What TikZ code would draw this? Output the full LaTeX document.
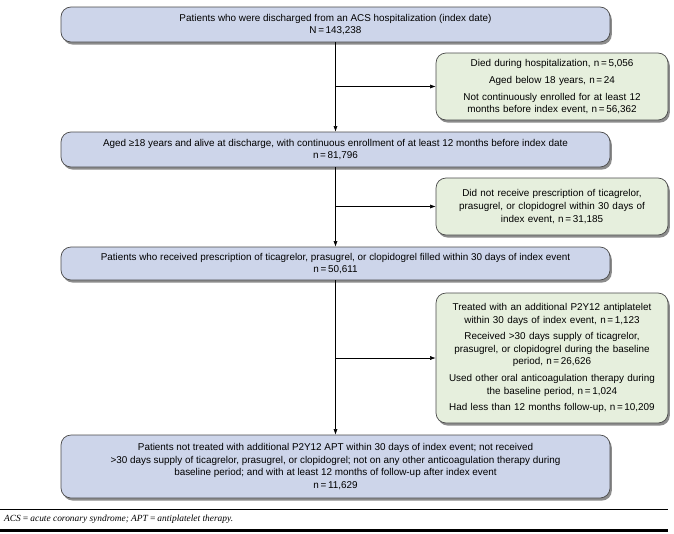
\documentclass[tikz,border=0pt]{standalone}
\usepackage{fontspec}
\setmainfont{Liberation Sans}
\newfontfamily\capfont{Liberation Serif}
\usetikzlibrary{shadows,arrows.meta}
\definecolor{bluefill}{HTML}{CDD5EA}
\definecolor{greenfill}{HTML}{E6EFDD}
\definecolor{boxline}{HTML}{4A4A4A}
\tikzset{
  base/.style={draw=boxline, line width=0.7pt, rounded corners=10pt, align=center,
    font=\fontsize{9.9}{12.6}\selectfont, inner sep=2pt,
    drop shadow={shadow xshift=1.8pt, shadow yshift=-2.6pt, opacity=0.6, fill=black!75}},
  mainbox/.style={base, fill=bluefill, minimum width=549pt},
  sidebox/.style={base, fill=greenfill, minimum width=232pt, text width=228pt},
  flow/.style={line width=0.55pt, -{Latex[length=5.5pt,width=4pt]}},
}
\begin{document}
\begin{tikzpicture}[x=1pt,y=-1pt]
\useasboundingbox[fill=white] (0,0) rectangle (674,533);
\node[mainbox, minimum height=35pt] (b1) at (335.5,24.5) {Patients who were discharged from an ACS hospitalization (index date)\\N\,=\,143,238};
\node[mainbox, minimum height=35pt] (b2) at (335.5,149.5) {Aged ≥18 years and alive at discharge, with continuous enrollment of at least 12 months before index date\\n\,=\,81,796};
\node[mainbox, minimum height=33pt] (b3) at (335.5,263.5) {Patients who received prescription of ticagrelor, prasugrel, or clopidogrel filled within 30 days of index event\\n\,=\,50,611};
\node[mainbox, minimum height=63pt] (b4) at (335.5,466.5) {Patients not treated with additional P2Y12 APT within 30 days of index event; not received\\>30 days supply of ticagrelor, prasugrel, or clopidogrel; not on any other anticoagulation therapy during\\baseline period; and with at least 12 months of follow-up after index event\\n\,=\,11,629};
\node[sidebox, minimum height=67pt] (g1) at (552,86.5) {Died during hospitalization, n\,=\,5,056\\[4.5pt]Aged below 18 years, n\,=\,24\\[4.5pt]Not continuously enrolled for at least 12\\months before index event, n\,=\,56,362};
\node[sidebox, minimum height=57pt] (g2) at (552,206.5) {Did not receive prescription of ticagrelor,\\prasugrel, or clopidogrel within 30 days of\\index event, n\,=\,31,185};
\node[sidebox, minimum height=130pt] (g3) at (552,358) {Treated with an additional P2Y12 antiplatelet\\within 30 days of index event, n\,=\,1,123\\[4pt]Received >30 days supply of ticagrelor,\\prasugrel, or clopidogrel during the baseline\\period, n\,=\,26,626\\[4pt]Used other oral anticoagulation therapy during\\the baseline period, n\,=\,1,024\\[4pt]Had less than 12 months follow-up, n\,=\,10,209};
\draw[flow] (b1) -- (b2);
\draw[flow] (b2) -- (b3);
\draw[flow] (b3) -- (b4);
\coordinate (j1) at (b1.south |- g1.west);
\coordinate (j2) at (b2.south |- g2.west);
\coordinate (j3) at (b3.south |- g3.west);
\draw[flow] (j1) -- (g1.west);
\draw[flow] (j2) -- (g2.west);
\draw[flow] (j3) -- (g3.west);
\draw[line width=0.9pt] (0,509.5) -- (668,509.5);
\node[anchor=west, inner sep=0pt, font=\capfont\itshape\fontsize{9.4}{10}\selectfont] (cap) at (4,519.5) {ACS\,=\,acute coronary syndrome; APT\,=\,antiplatelet therapy.};
\draw[line width=3pt] (0,530.5) -- (668,530.5);
\end{tikzpicture}
\end{document}
